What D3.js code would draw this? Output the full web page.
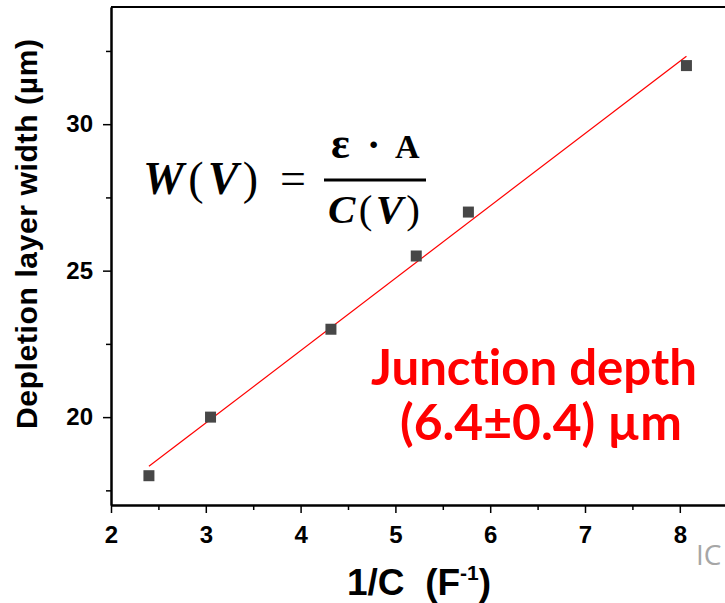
<!DOCTYPE html>
<html>
<head>
<meta charset="utf-8">
<script src="https://cdn.jsdelivr.net/npm/d3@7"></script>
<style>
  html, body { margin: 0; padding: 0; background: #fff; overflow: hidden; }
  svg { display: block; }
</style>
</head>
<body>
<div id="chart-div"></div>
<script>
'use strict'

// measured points: 1/C (F^-1) vs depletion width (um)
let inv_cap = [2.40, 3.05, 4.32, 5.22, 5.77, 8.07]
let dep_width = [18.0, 20.0, 23.0, 25.5, 27.0, 32.0]

// linear fit end points
let fit_x = [2.40, 8.07]
let fit_y = [18.32, 32.32]

let x_ticks = [2, 3, 4, 5, 6, 7, 8]
let x_minor = [2.5, 3.5, 4.5, 5.5, 6.5, 7.5, 8.5]
let y_ticks = [20, 25, 30]
let y_minor = [17.5, 22.5, 27.5, 32.5]

let x_domain = [2, 8.6]
let y_domain = [17, 34]

function wrapper(){

	let svg_width = 725
	let svg_height = 603
	let padding = {top: 7, left: 111, bottom: 98}

	let svg = d3.select('#chart-div').append('svg')
		.attr('width', svg_width)
		.attr('height', svg_height)

	let xScale = d3.scaleLinear().domain(x_domain)
		.range([padding.left, padding.left + (x_domain[1] - x_domain[0]) * 94.8])
	let yScale = d3.scaleLinear().domain(y_domain)
		.range([svg_height - padding.bottom, padding.top])

	let axis_font = "'Liberation Sans', Arial, sans-serif"

	function create_axes(){
		let y0 = yScale(y_domain[0])

		// minor ticks first
		svg.append('g')
			.attr('transform', 'translate(0,' + y0 + ')')
			.attr('class', 'x-minor')
			.call(d3.axisBottom(xScale).tickValues(x_minor).tickSize(5).tickFormat('').tickSizeOuter(0))
		svg.append('g')
			.attr('transform', 'translate(' + padding.left + ',0)')
			.attr('class', 'y-minor')
			.call(d3.axisLeft(yScale).tickValues(y_minor).tickSize(5).tickFormat('').tickSizeOuter(0))

		svg.append('g')
			.attr('transform', 'translate(0,' + y0 + ')')
			.attr('class', 'x-axis')
			.call(d3.axisBottom(xScale).tickValues(x_ticks).tickFormat(d3.format('d'))
				.tickSize(8).tickPadding(13).tickSizeOuter(0))
		svg.append('g')
			.attr('transform', 'translate(' + padding.left + ',0)')
			.attr('class', 'y-axis')
			.call(d3.axisLeft(yScale).tickValues(y_ticks).tickFormat(d3.format('d'))
				.tickSize(8).tickPadding(10).tickSizeOuter(0))

		svg.selectAll('.x-axis path, .y-axis path, .x-minor path, .y-minor path')
			.attr('stroke', '#000').attr('stroke-width', 2)
		svg.selectAll('.tick line').attr('stroke', '#000').attr('stroke-width', 1.5)
		svg.selectAll('.x-axis text, .y-axis text')
			.attr('fill', '#000')
			.style('font-family', axis_font)
			.style('font-size', '24px')
			.style('font-weight', 'bold')

		// top frame line (right edge is outside the window)
		svg.append('line')
			.attr('x1', xScale(x_domain[0])).attr('x2', xScale(x_domain[1]))
			.attr('y1', yScale(y_domain[1])).attr('y2', yScale(y_domain[1]))
			.attr('stroke', '#000').attr('stroke-width', 2)
		svg.append('line')
			.attr('x1', xScale(x_domain[1])).attr('x2', xScale(x_domain[1]))
			.attr('y1', yScale(y_domain[1])).attr('y2', yScale(y_domain[0]))
			.attr('stroke', '#000').attr('stroke-width', 2)

		// axis titles
		svg.append('text')
			.attr('transform', 'translate(37,234) rotate(-90)')
			.attr('text-anchor', 'middle')
			.attr('textLength', 390)
			.style('font-family', axis_font)
			.style('font-size', '30px')
			.style('font-weight', 'bold')
			.text('Depletion layer width (\u00b5m)')

		let xl = svg.append('text')
			.attr('x', 347).attr('y', 595)
			.style('white-space', 'pre')
			.style('font-family', axis_font)
			.style('font-size', '37px')
			.style('font-weight', 'bold')
		xl.append('tspan').text('1/C  (F')
		xl.append('tspan').attr('dy', -15).style('font-size', '21px').text('-1')
		xl.append('tspan').attr('dy', 15).text(')')
	}

	create_axes()

	// fit line
	let fit_pts = fit_x.map(function(x, i){ return [x, fit_y[i]] })
	svg.append('path')
		.datum(fit_pts)
		.attr('fill', 'none')
		.attr('stroke', '#ff0000')
		.attr('stroke-width', 1.2)
		.attr('d', d3.line()
			.x(function(d){ return xScale(d[0]) })
			.y(function(d){ return yScale(d[1]) }))

	// data squares
	let sq = 11
	svg.selectAll('.pt')
		.data(inv_cap.map(function(x, i){ return [x, dep_width[i]] }))
		.enter()
		.append('rect')
		.attr('class', 'pt')
		.attr('x', function(d){ return xScale(d[0]) - sq / 2 })
		.attr('y', function(d){ return yScale(d[1]) - sq / 2 })
		.attr('width', sq)
		.attr('height', sq)
		.attr('fill', '#474747')

	// formula W(V) = e.A / C(V)
	let serif = "'Liberation Serif', 'DejaVu Serif', serif"
	let lhs = svg.append('text')
		.attr('x', 143).attr('y', 194)
		.attr('textLength', 115)
		.style('font-family', serif)
		.style('font-size', '46px')
	lhs.append('tspan').style('font-weight', 'bold').style('font-style', 'italic').text('W')
	lhs.append('tspan').text('(')
	lhs.append('tspan').style('font-weight', 'bold').style('font-style', 'italic').text('V')
	lhs.append('tspan').text(')')

	svg.append('text')
		.attr('x', 293).attr('y', 194)
		.attr('text-anchor', 'middle')
		.style('font-family', serif)
		.style('font-size', '46px')
		.text('=')

	svg.append('line')
		.attr('x1', 324).attr('x2', 426)
		.attr('y1', 180).attr('y2', 180)
		.attr('stroke', '#000').attr('stroke-width', 3)

	let num = svg.append('text')
		.attr('y', 158)
		.style('font-family', serif)
		.style('font-size', '34px')
		.style('font-weight', 'bold')
	num.append('tspan').attr('x', 331).style('font-size', '44px').text('\u03b5')
	num.append('tspan').attr('x', 367).style('font-size', '40px').text('\u00b7')
	num.append('tspan').attr('x', 395).text('A')

	let den = svg.append('text')
		.attr('x', 328).attr('y', 223)
		.attr('textLength', 92)
		.style('font-family', serif)
		.style('font-size', '41px')
	den.append('tspan').style('font-weight', 'bold').style('font-style', 'italic').text('C')
	den.append('tspan').text('(')
	den.append('tspan').style('font-weight', 'bold').style('font-style', 'italic').text('V')
	den.append('tspan').text(')')

	// red annotation, sized so each line spans the width seen in the picture
	let red_font = "Lato, 'Open Sans', sans-serif"
	let red_lines = [
		{txt: 'Junction depth', x: 371, y: 385, w: 326},
		{txt: '(6.4\u00b10.4) \u00b5m', x: 400, y: 440, w: 282}
	]
	red_lines.forEach(function(r){
		let t = svg.append('text')
			.attr('x', r.x).attr('y', r.y)
			.attr('fill', '#ff0000')
			.style('font-family', red_font)
			.style('font-size', '44px')
			.style('font-weight', 'bold')
			.style('font-variant-ligatures', 'none')
			.text(r.txt)
		let len = t.node().getComputedTextLength()
		t.style('font-size', (44 * r.w / len) + 'px')
	})

	// clipped grey watermark at the corner
	svg.append('text')
		.attr('x', 696).attr('y', 565)
		.attr('fill', '#a6a6a6')
		.style('font-family', "'Open Sans', sans-serif")
		.style('font-size', '28px')
		.text('IC')
}

wrapper()
</script>
</body>
</html>
